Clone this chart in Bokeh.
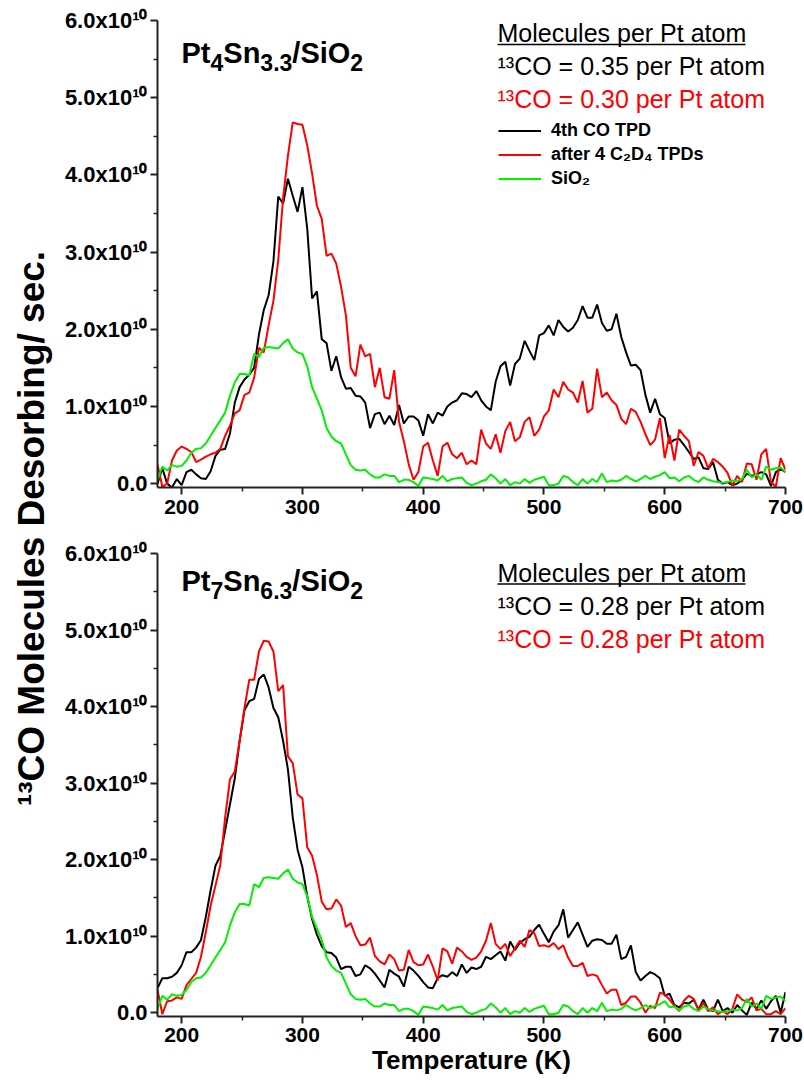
import math
from bokeh.plotting import figure
from bokeh.models import Legend, LegendItem, FixedTicker, ColumnDataSource
from bokeh.layouts import row, column
from bokeh.embed import file_html
from bokeh.resources import INLINE
from bokeh.core.properties import value

# ---------------- data (values in units of 1e10 molecules/s) ----------------
SCALE = 1e10
TEMPERATURE_K = [
    180, 184, 188, 192, 196, 200, 204, 208, 212, 216,
    220, 224, 228, 232, 236, 240, 244, 248, 252, 256,
    260, 264, 268, 272, 276, 280, 284, 288, 292, 296,
    300, 304, 308, 312, 316, 320, 324, 328, 332, 336,
    340, 344, 348, 352, 356, 360, 364, 368, 372, 376,
    380, 384, 388, 392, 396, 400, 404, 408, 412, 416,
    420, 424, 428, 432, 436, 440, 444, 448, 452, 456,
    460, 464, 468, 472, 476, 480, 484, 488, 492, 496,
    500, 504, 508, 512, 516, 520, 524, 528, 532, 536,
    540, 544, 548, 552, 556, 560, 564, 568, 572, 576,
    580, 584, 588, 592, 596, 600, 604, 608, 612, 616,
    620, 624, 628, 632, 636, 640, 644, 648, 652, 656,
    660, 664, 668, 672, 676, 680, 684, 688, 692, 696,
    700]

# Pt4Sn3.3/SiO2 : 4th CO TPD (black)
PT4_CO4 = [
    0.00, 0.20, 0.00, -0.05, 0.06, -0.02, 0.15, 0.18, 0.12, 0.07,
    0.06, 0.16, 0.36, 0.44, 0.45, 0.65, 1.05, 1.25, 1.35, 1.41,
    1.50, 1.93, 2.25, 2.44, 2.88, 3.72, 3.63, 3.95, 3.73, 3.52,
    3.84, 3.30, 2.40, 2.49, 1.87, 1.82, 1.46, 1.65, 1.38, 1.23,
    1.24, 1.14, 1.13, 1.05, 0.72, 0.90, 0.92, 0.77, 0.88, 0.76,
    1.02, 0.78, 0.87, 0.87, 0.82, 0.62, 0.90, 0.78, 0.92, 0.88,
    1.00, 1.05, 1.08, 1.17, 1.16, 1.12, 1.20, 1.08, 1.00, 0.95,
    1.32, 1.52, 1.58, 1.27, 1.55, 1.62, 1.85, 1.72, 1.60, 1.92,
    1.95, 2.05, 1.92, 2.12, 2.03, 1.97, 2.02, 2.12, 2.30, 2.15,
    2.15, 2.32, 2.08, 1.98, 2.00, 2.20, 1.90, 1.70, 1.53, 1.54,
    1.47, 1.15, 0.92, 1.10, 0.90, 0.85, 0.52, 0.57, 0.58, 0.50,
    0.41, 0.32, 0.34, 0.20, 0.19, 0.28, 0.05, 0.00, 0.02, -0.02,
    0.00, 0.05, 0.13, 0.10, 0.12, 0.15, 0.12, -0.03, 0.15, 0.19,
    0.15]

# Pt4Sn3.3/SiO2 : after 4 C2D4 TPDs (red)
PT4_AFTER = [
    0.25, -0.04, 0.00, 0.30, 0.43, 0.48, 0.45, 0.41, 0.28, 0.31,
    0.35, 0.38, 0.40, 0.45, 0.62, 0.75, 0.91, 0.95, 1.15, 1.18,
    1.37, 1.76, 1.70, 2.05, 2.37, 2.90, 3.70, 4.25, 4.68, 4.66,
    4.65, 4.38, 4.02, 3.60, 3.43, 2.95, 2.98, 2.85, 2.55, 2.18,
    1.50, 1.39, 1.80, 1.65, 1.68, 1.25, 1.50, 1.12, 1.10, 1.47,
    0.80, 0.55, 0.25, 0.05, 0.15, 0.48, 0.53, 0.30, 0.10, 0.48,
    0.53, 0.38, 0.33, 0.40, 0.25, 0.30, 0.25, 0.70, 0.52, 0.45,
    0.64, 0.40, 0.68, 0.80, 0.55, 0.60, 0.80, 0.86, 0.62, 0.70,
    0.87, 0.95, 1.22, 1.12, 1.32, 1.22, 1.18, 1.05, 1.33, 0.92,
    0.97, 1.49, 1.12, 1.18, 1.08, 1.02, 0.84, 0.77, 0.97, 0.93,
    0.80, 0.64, 0.50, 0.57, 0.85, 0.33, 0.63, 0.30, 0.70, 0.62,
    0.55, 0.23, 0.41, 0.36, 0.20, 0.32, 0.28, 0.22, 0.14, -0.03,
    0.10, 0.02, 0.26, 0.25, 0.05, 0.38, 0.45, 0.02, -0.04, 0.33,
    0.18]

# SiO2 support (green) - same trace in both panels
SIO2 = [
    0.05, 0.22, 0.17, 0.24, 0.22, 0.23, 0.30, 0.40, 0.45, 0.46,
    0.52, 0.62, 0.72, 0.82, 0.92, 1.14, 1.31, 1.42, 1.42, 1.40,
    1.68, 1.64, 1.76, 1.77, 1.76, 1.75, 1.82, 1.87, 1.75, 1.70,
    1.68, 1.52, 1.25, 1.10, 0.95, 0.72, 0.61, 0.55, 0.52, 0.38,
    0.24, 0.18, 0.17, 0.18, 0.12, 0.08, 0.08, 0.12, 0.10, 0.10,
    0.02, 0.05, 0.05, 0.02, -0.03, 0.08, 0.07, 0.06, 0.04, 0.10,
    0.03, 0.06, 0.07, 0.08, 0.01, -0.02, 0.00, 0.03, 0.05, 0.12,
    0.07, 0.00, 0.06, -0.02, 0.02, 0.00, 0.06, 0.01, 0.05, 0.07,
    0.09, -0.02, -0.02, 0.00, 0.10, 0.08, 0.02, -0.02, 0.06, 0.00,
    0.06, 0.02, 0.13, 0.02, 0.04, 0.03, 0.05, 0.10, 0.06, 0.03,
    0.06, 0.10, 0.06, 0.09, 0.11, 0.15, 0.07, 0.08, 0.03, 0.08,
    0.10, 0.05, 0.02, 0.08, 0.05, 0.03, 0.02, 0.01, 0.02, 0.04,
    0.03, 0.06, 0.18, 0.08, 0.12, 0.05, 0.22, 0.18, 0.20, 0.21,
    0.15]

# Pt7Sn6.3/SiO2 : 4th CO TPD (black)
PT7_CO4 = [
    0.32, 0.45, 0.45, 0.47, 0.52, 0.62, 0.79, 0.79, 0.85, 0.95,
    1.25, 1.60, 1.92, 2.05, 2.38, 2.72, 3.06, 3.55, 3.95, 4.07,
    4.10, 4.36, 4.42, 4.25, 3.98, 3.86, 3.55, 3.18, 2.55, 2.13,
    1.90, 1.52, 1.22, 1.02, 0.87, 0.79, 0.78, 0.72, 0.57, 0.60,
    0.60, 0.48, 0.50, 0.62, 0.58, 0.51, 0.42, 0.33, 0.56, 0.51,
    0.47, 0.34, 0.60, 0.55, 0.48, 0.40, 0.33, 0.32, 0.45, 0.49,
    0.47, 0.53, 0.48, 0.63, 0.52, 0.59, 0.57, 0.60, 0.73, 0.70,
    0.75, 0.80, 0.68, 0.93, 0.82, 0.91, 0.96, 0.99, 1.08, 1.15,
    1.03, 0.92, 1.06, 1.14, 1.35, 0.98, 1.08, 1.18, 1.02, 0.86,
    0.94, 0.96, 0.95, 0.90, 0.90, 1.02, 0.70, 0.73, 0.88, 0.53,
    0.42, 0.48, 0.53, 0.50, 0.45, 0.22, 0.25, 0.10, 0.07, 0.13,
    0.12, 0.17, 0.04, 0.17, 0.04, 0.02, 0.17, 0.02, 0.06, 0.00,
    0.10, 0.03, -0.03, 0.13, 0.05, 0.16, 0.05, 0.15, 0.22, 0.00,
    0.27]

# Pt7Sn6.3/SiO2 : after 4 C2D4 TPDs (red)
PT7_AFTER = [
    0.30, -0.02, 0.15, 0.16, 0.20, 0.18, 0.36, 0.44, 0.52, 0.73,
    1.05, 1.40, 1.66, 1.93, 2.55, 3.05, 3.15, 3.55, 3.98, 4.35,
    4.35, 4.72, 4.86, 4.85, 4.72, 4.20, 4.28, 3.35, 3.26, 2.85,
    2.80, 2.16, 2.05, 1.80, 1.45, 1.35, 1.36, 1.48, 1.40, 1.12,
    1.17, 1.00, 0.88, 0.89, 0.98, 0.74, 0.67, 0.63, 0.76, 0.70,
    0.55, 0.56, 0.82, 0.66, 0.62, 0.63, 0.76, 0.60, 0.42, 0.84,
    0.80, 0.64, 0.85, 0.80, 0.73, 0.69, 0.72, 0.80, 0.94, 1.17,
    0.90, 0.83, 0.90, 0.74, 0.84, 0.94, 0.86, 1.08, 1.04, 0.87,
    0.88, 0.86, 0.91, 0.83, 0.88, 0.72, 0.61, 0.61, 0.65, 0.48,
    0.50, 0.48, 0.36, 0.25, 0.30, 0.30, 0.10, 0.13, 0.21, 0.21,
    0.13, 0.00, 0.09, 0.06, 0.26, 0.24, 0.17, 0.09, 0.02, 0.16,
    0.22, 0.18, 0.03, 0.13, 0.02, 0.07, -0.02, 0.02, -0.02, 0.05,
    0.24, 0.17, 0.14, 0.20, 0.03, 0.05, -0.02, -0.02, 0.02, -0.02,
    0.06]

X_TICKS = [200, 300, 400, 500, 600, 700]
X_MINOR = [250, 350, 450, 550, 650]
Y_TICKS = [0, 1, 2, 3, 4, 5, 6]
Y_MINOR = [0.5, 1.5, 2.5, 3.5, 4.5, 5.5]
Y_TICK_LABELS = ["0.0", "1.0x10\u00b9\u2070", "2.0x10\u00b9\u2070", "3.0x10\u00b9\u2070",
                 "4.0x10\u00b9\u2070", "5.0x10\u00b9\u2070", "6.0x10\u00b9\u2070"]

SERIES_NAMES = ["4th CO TPD", "after 4 C\u2082D\u2084 TPDs", "SiO\u2082"]
SERIES_COLORS = ["#000000", "#ff0000", "#00f000"]
TOP_TITLE = [("Pt", 0), ("4", 1), ("Sn", 0), ("3.3", 1), ("/SiO", 0), ("2", 1)]
BOT_TITLE = [("Pt", 0), ("7", 1), ("Sn", 0), ("6.3", 1), ("/SiO", 0), ("2", 1)]
HEADER = "Molecules per Pt atom"
TOP_LINES = ["\u00b9\u00b3CO = 0.35 per Pt atom", "\u00b9\u00b3CO = 0.30 per Pt atom"]
BOT_LINES = ["\u00b9\u00b3CO = 0.28 per Pt atom", "\u00b9\u00b3CO = 0.28 per Pt atom"]
Y_LABEL = "\u00b9\u00b3CO Molecules Desorbing/ sec."
X_LABEL = "Temperature (K)"

# ---------------- layout constants (page pixels) ----------------
FONT = "Liberation Sans"
LAB_W = 58
MAIN_W = 746
TOP_H = 534
BOT_H = 548
FRAME_LEFT = 157
FRAME_RIGHT = 785
X_RANGE = (180, 700)
Y_RANGE = (-0.05, 6.0)
TITLE_BIG = 29
TITLE_SUB = 23

BOLD_W = {"P": .667, "t": .333, "S": .667, "n": .611, "/": .278,
          "i": .278, "O": .778, ".": .278}


def text_w(s, size):
    return sum(BOLD_W.get(c, .556) for c in s) * size


def build_panel(fig_top, height, frame_top, frame_bottom, xlabel=None):
    p = figure(width=MAIN_W, height=height,
               x_range=X_RANGE, y_range=(Y_RANGE[0] * SCALE, Y_RANGE[1] * SCALE),
               min_border_left=FRAME_LEFT - LAB_W,
               min_border_right=LAB_W + MAIN_W - FRAME_RIGHT,
               min_border_top=frame_top - fig_top,
               min_border_bottom=fig_top + height - frame_bottom,
               output_backend="svg", toolbar_location=None)
    p.outline_line_color = None
    p.grid.visible = False

    fw = FRAME_RIGHT - FRAME_LEFT
    fh = frame_bottom - frame_top

    def dx(px):
        return X_RANGE[0] + (px - FRAME_LEFT) * (X_RANGE[1] - X_RANGE[0]) / fw

    def dy(py):
        return (Y_RANGE[1] - (py - frame_top) * (Y_RANGE[1] - Y_RANGE[0]) / fh) * SCALE

    for ax in (p.xaxis[0], p.yaxis[0]):
        ax.axis_line_width = 2
        ax.axis_line_color = "#222222"
        ax.major_tick_line_width = 2
        ax.major_tick_line_color = "#222222"
        ax.minor_tick_line_width = 1.5
        ax.minor_tick_line_color = "#222222"
        ax.major_tick_in = 0
        ax.major_tick_out = 7
        ax.minor_tick_in = 0
        ax.minor_tick_out = 4
        ax.major_label_text_font = FONT
        ax.major_label_text_font_style = "bold"
        ax.major_label_text_color = "black"
    p.xaxis.ticker = FixedTicker(ticks=X_TICKS, minor_ticks=X_MINOR)
    p.xaxis.major_label_text_font_size = "21px"
    p.xaxis.major_label_standoff = 5
    p.yaxis.ticker = FixedTicker(ticks=[int(v * SCALE) for v in Y_TICKS],
                                 minor_ticks=[v * SCALE for v in Y_MINOR])
    p.yaxis.major_label_overrides = {int(v * SCALE): lab for v, lab in zip(Y_TICKS, Y_TICK_LABELS)}
    p.yaxis.major_label_text_font_size = "22px"
    p.yaxis.major_label_standoff = 3
    if xlabel:
        p.xaxis.major_label_standoff = 4
        p.xaxis.axis_label = xlabel
        p.xaxis.axis_label_text_font = FONT
        p.xaxis.axis_label_text_font_style = "bold"
        p.xaxis.axis_label_text_font_size = "26px"
        p.xaxis.axis_label_text_color = "black"
        p.xaxis.axis_label_standoff = 0
    return p, dx, dy


def add_title(p, dx, dy, pieces, px, center):
    xs, ys, ts, sizes = [], [], [], []
    x = px
    for txt, sub in pieces:
        size = TITLE_SUB if sub else TITLE_BIG
        xs.append(dx(x))
        ys.append(dy(center + (9.5 if sub else 0)))
        ts.append(txt)
        sizes.append(f"{size}px")
        x += text_w(txt, size)
    src = ColumnDataSource(dict(x=xs, y=ys, text=ts, size=sizes))
    p.text("x", "y", text="text", source=src, text_font=value(FONT), text_font_style="bold",
           text_font_size="size", text_align="left", text_baseline="middle", text_color="black")


def add_header(p, dx, dy, header_center, underline_y, lines, line_centers):
    left = 497
    src = ColumnDataSource(dict(x=[dx(left)] * 3,
                                y=[dy(header_center)] + [dy(c) for c in line_centers],
                                text=[HEADER] + lines,
                                color=["black", "black", "#ff0000"]))
    p.text("x", "y", text="text", source=src, text_font=value(FONT), text_font_size="25px",
           text_align="left", text_baseline="middle", text_color="color")
    p.segment(x0=[dx(left)], y0=[dy(underline_y)], x1=[dx(left + 248)], y1=[dy(underline_y)],
              line_color="black", line_width=1.6)


def add_series(p, black, red, green):
    src = ColumnDataSource(dict(t=TEMPERATURE_K,
                                black=[v * SCALE for v in black],
                                red=[v * SCALE for v in red],
                                green=[v * SCALE for v in green]))
    rs = []
    for key, col in zip(["black", "red", "green"], SERIES_COLORS):
        rs.append(p.line("t", key, source=src, line_color=col, line_width=2))
    return rs


# ---------------- top panel ----------------
top, tdx, tdy = build_panel(0, TOP_H, 20, 487)
rs_top = add_series(top, PT4_CO4, PT4_AFTER, SIO2)
add_title(top, tdx, tdy, TOP_TITLE, 181, 52)
add_header(top, tdx, tdy, 32.5, 44, TOP_LINES, [65.5, 98.5])
legend = Legend(items=[LegendItem(label=n, renderers=[r]) for n, r in zip(SERIES_NAMES, rs_top)],
                location=(498 - FRAME_LEFT, 487 - 188.5),
                padding=0, margin=0, spacing=3, glyph_width=43, glyph_height=21,
                label_height=21, label_standoff=10,
                border_line_color=None, background_fill_alpha=0,
                label_text_font=FONT, label_text_font_style="bold",
                label_text_font_size="18px", label_text_color="black")
top.add_layout(legend)

# ---------------- bottom panel ----------------
bot, bdx, bdy = build_panel(TOP_H, BOT_H, 553, 1016, xlabel=X_LABEL)
add_series(bot, PT7_CO4, PT7_AFTER, SIO2)
add_title(bot, bdx, bdy, BOT_TITLE, 181, 580)
add_header(bot, bdx, bdy, 572, 583.5, BOT_LINES, [605.5, 638.5])

# ---------------- shared y-axis title ----------------
TOTAL_H = TOP_H + BOT_H
lab = figure(width=LAB_W, height=TOTAL_H, x_range=(0, LAB_W), y_range=(0, TOTAL_H),
             x_axis_type=None, y_axis_type=None, min_border=0,
             output_backend="svg", toolbar_location=None)
lab.outline_line_color = None
lab.text(x=[31], y=[TOTAL_H - 528], text=[Y_LABEL], angle=math.pi / 2,
         text_font=value(FONT), text_font_style="bold", text_font_size="37px",
         text_align="center", text_baseline="middle", text_color="black")

layout = row(lab, column(top, bot))
open("out.html", "w").write(file_html(layout, INLINE))
